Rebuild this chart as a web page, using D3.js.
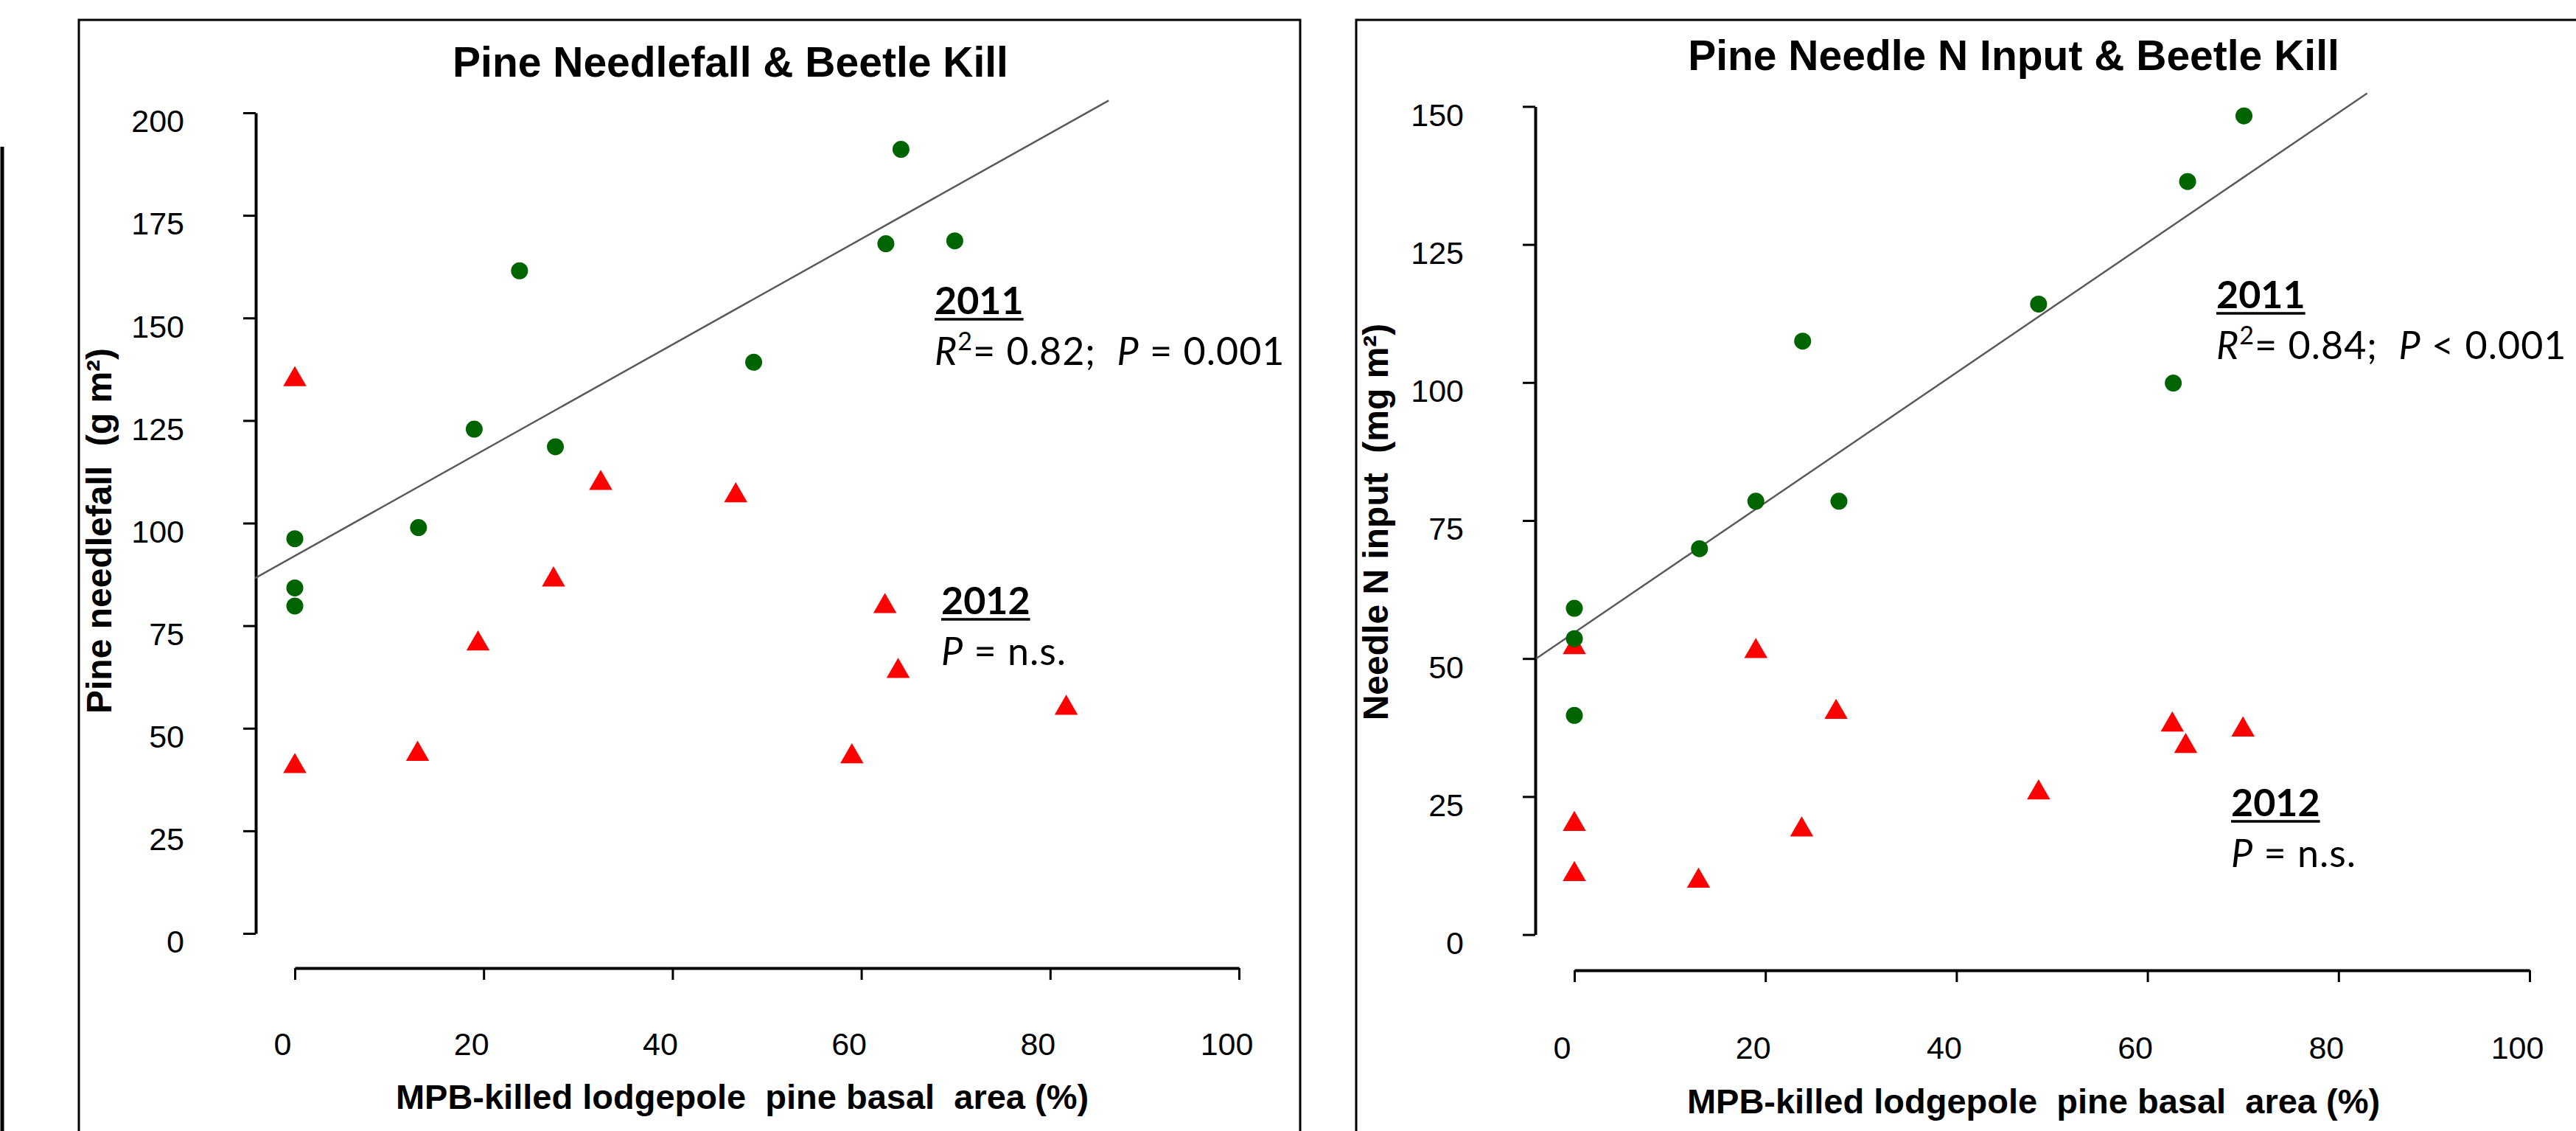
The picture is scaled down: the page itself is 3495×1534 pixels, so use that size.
<!DOCTYPE html>
<html>
<head>
<meta charset="utf-8">
<script src="https://cdn.jsdelivr.net/npm/d3@7"></script>
<style>
  body { margin: 0; background: #fff; }
  svg { display: block; }
</style>
</head>
<body>
<svg id="chart" width="3495" height="1534"></svg>
<script>
// Pine needlefall panel
const fallKill2011 = [0, 0, 0, 13.1, 19.0, 23.8, 27.6, 48.6, 62.6, 64.2, 69.9];
const fallMass2011 = [96.2, 84.2, 79.8, 98.9, 122.9, 161.5, 118.6, 139.2, 168.1, 191.1, 168.8];
const fallKill2012 = [0, 0, 13.0, 19.4, 27.4, 32.4, 46.7, 59.0, 62.5, 63.9, 81.7];
const fallMass2012 = [135.0, 40.7, 43.7, 70.6, 86.2, 109.7, 106.7, 43.1, 79.7, 63.9, 54.9];
const fallFitX = [-4.2, 86.2];
const fallFitY = [86.6, 203.0];

// Needle N input panel
const nKill2011 = [0, 0, 0, 13.1, 19.0, 23.9, 27.7, 48.6, 62.7, 64.2, 70.1];
const nInput2011 = [59.1, 53.6, 39.7, 69.9, 78.5, 107.5, 78.5, 114.2, 99.9, 136.4, 148.3];
const nKill2012 = [0, 0, 0, 13.0, 19.0, 23.8, 27.4, 48.6, 62.6, 64.0, 70.0];
const nInput2012 = [52.0, 20.0, 10.9, 9.7, 51.3, 19.0, 40.3, 25.7, 38.0, 34.1, 37.1];
const nFitX = [-4.0, 83.0];
const nFitY = [50.0, 152.4];

const xTicks = [0, 20, 40, 60, 80, 100];
const fallTicks = [0, 25, 50, 75, 100, 125, 150, 175, 200];
const nTicks = [0, 25, 50, 75, 100, 125, 150];

const svg = d3.select("#chart");
const sans = "'Liberation Sans', Arial, sans-serif";
const note = "Lato, 'Open Sans', sans-serif";

// frames of the two slides
svg.append("path")
  .attr("d", "M107,1540V27H1764V1540")
  .attr("fill", "none").attr("stroke", "#000").attr("stroke-width", 3);
svg.append("path")
  .attr("d", "M1840,1540V27H3500")
  .attr("fill", "none").attr("stroke", "#000").attr("stroke-width", 3);
svg.append("line")
  .attr("x1", 3).attr("x2", 3).attr("y1", 199).attr("y2", 1540)
  .attr("stroke", "#000").attr("stroke-width", 5);

function drawPanel(p) {
  const x = d3.scaleLinear().domain([0, 100]).range(p.xRange);
  const y = d3.scaleLinear().domain([0, p.yTicks[p.yTicks.length - 1]]).range(p.yRange);

  const yAxis = svg.append("g")
    .attr("transform", `translate(${p.yAxisX},0)`)
    .call(d3.axisLeft(y).tickValues(p.yTicks).tickSize(17).tickSizeOuter(0).tickPadding(80));
  const xAxis = svg.append("g")
    .attr("transform", `translate(0,${p.xAxisY})`)
    .call(d3.axisBottom(x).tickValues(xTicks).tickSize(16).tickSizeOuter(0).tickPadding(p.xPad));

  [yAxis, xAxis].forEach((g) => {
    g.select(".domain").attr("stroke", "#000").attr("stroke-width", 4);
    g.selectAll(".tick line").attr("stroke", "#000").attr("stroke-width", 3);
    g.selectAll(".tick text")
      .attr("fill", "#000")
      .style("font-family", sans)
      .style("font-size", "43px");
  });
  yAxis.selectAll(".tick text").attr("dy", "0.6em");
  xAxis.selectAll(".tick text").attr("dx", -17);

  // regression line for 2011
  svg.append("line")
    .attr("x1", x(p.fitX[0])).attr("y1", y(p.fitY[0]))
    .attr("x2", x(p.fitX[1])).attr("y2", y(p.fitY[1]))
    .attr("stroke", "#5a5a5a").attr("stroke-width", 2.5);

  svg.append("g").selectAll("path")
    .data(d3.zip(p.kill2012, p.val2012))
    .join("path")
    .attr("transform", (d) => `translate(${x(d[0])},${y(d[1])})`)
    .attr("d", d3.symbol(d3.symbolTriangle, 430))
    .attr("fill", "#ff0000");

  svg.append("g").selectAll("circle")
    .data(d3.zip(p.kill2011, p.val2011))
    .join("circle")
    .attr("cx", (d) => x(d[0]))
    .attr("cy", (d) => y(d[1]))
    .attr("r", 11.5)
    .attr("fill", "#006400");

  svg.append("text")
    .attr("x", p.titleX).attr("y", p.titleY)
    .attr("text-anchor", "middle")
    .style("font-family", sans).style("font-size", "57px").style("font-weight", "bold")
    .text(p.title);

  svg.append("text")
    .attr("x", p.xTitleX).attr("y", p.xTitleY)
    .attr("text-anchor", "middle")
    .style("font-family", sans).style("font-size", "47px").style("font-weight", "bold")
    .style("white-space", "pre")
    .text("MPB-killed lodgepole  pine basal  area (%)");

  svg.append("text")
    .attr("transform", `translate(${p.yTitleX},${p.yTitleY}) rotate(-90)`)
    .attr("text-anchor", "middle")
    .style("font-family", sans).style("font-size", "48px").style("font-weight", "bold")
    .style("white-space", "pre")
    .text(p.yTitle);

  // annotations
  p.notes.forEach((n) => {
    const head = svg.append("text")
      .attr("x", n.x).attr("y", n.y)
      .style("font-family", note).style("font-size", "52px").style("font-weight", "bold")
      .text(n.year);
    const w = head.node().getComputedTextLength();
    svg.append("line")
      .attr("x1", n.x).attr("x2", n.x + w)
      .attr("y1", n.y + 7).attr("y2", n.y + 7)
      .attr("stroke", "#000").attr("stroke-width", 3.5);

    const stat = svg.append("text")
      .attr("x", n.x).attr("y", n.y + 69)
      .style("font-family", note).style("font-size", "52px")
      .style("letter-spacing", "1px")
      .style("white-space", "pre");
    n.parts.forEach((t) => {
      const ts = stat.append("tspan").text(t.s);
      if (t.i) ts.style("font-style", "italic");
      if (t.sup) ts.attr("baseline-shift", "super").style("font-size", "34px");
    });
  });
}

drawPanel({
  xRange: [400, 1681], yRange: [1266, 153],
  yAxisX: 347, xAxisY: 1313, xPad: 71,
  yTicks: fallTicks,
  kill2011: fallKill2011, val2011: fallMass2011,
  kill2012: fallKill2012, val2012: fallMass2012,
  fitX: fallFitX, fitY: fallFitY,
  title: "Pine Needlefall & Beetle Kill", titleX: 991, titleY: 104,
  xTitleX: 1007, xTitleY: 1504,
  yTitle: "Pine needlefall  (g m²)", yTitleX: 151, yTitleY: 720,
  notes: [
    { x: 1268, y: 426, year: "2011",
      parts: [{ s: "R", i: true }, { s: "2", sup: true }, { s: "= 0.82;  " }, { s: "P", i: true }, { s: " = 0.001" }] },
    { x: 1277, y: 833, year: "2012",
      parts: [{ s: "P", i: true }, { s: " = n.s." }] }
  ]
});

drawPanel({
  xRange: [2136, 3432], yRange: [1267.6, 144.4],
  yAxisX: 2083, xAxisY: 1316, xPad: 73,
  yTicks: nTicks,
  kill2011: nKill2011, val2011: nInput2011,
  kill2012: nKill2012, val2012: nInput2012,
  fitX: nFitX, fitY: nFitY,
  title: "Pine Needle N Input & Beetle Kill", titleX: 2732, titleY: 95,
  xTitleX: 2759, xTitleY: 1510,
  yTitle: "Needle N input  (mg m²)", yTitleX: 1883, yTitleY: 708,
  notes: [
    { x: 3007, y: 418, year: "2011",
      parts: [{ s: "R", i: true }, { s: "2", sup: true }, { s: "= 0.84;  " }, { s: "P", i: true }, { s: " < 0.001" }] },
    { x: 3027, y: 1107, year: "2012",
      parts: [{ s: "P", i: true }, { s: " = n.s." }] }
  ]
});
</script>
</body>
</html>
